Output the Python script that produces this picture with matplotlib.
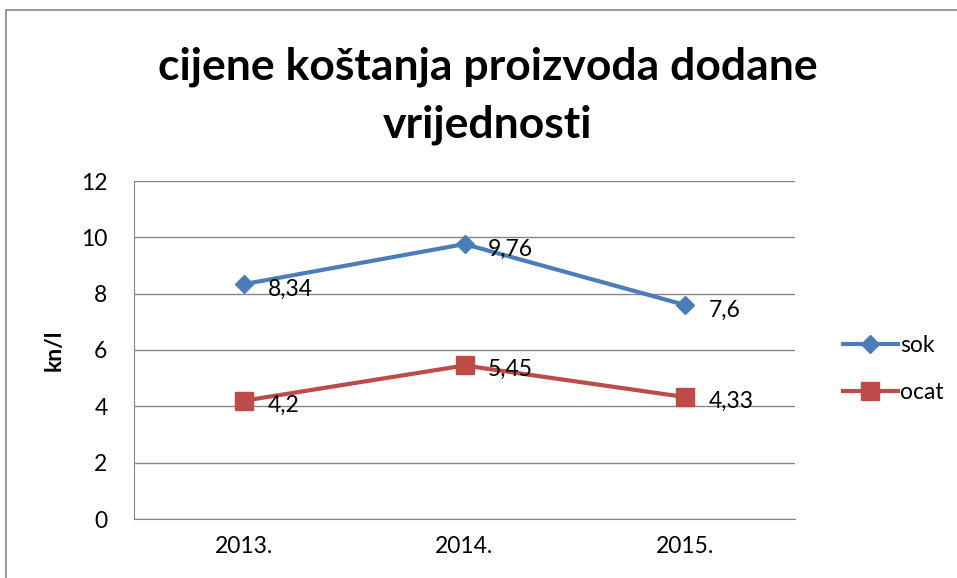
import matplotlib.pyplot as plt
import matplotlib.patches as mpatches

plt.rcParams['font.family'] = ['Lato', 'DejaVu Sans']

years = ['2013.', '2014.', '2015.']
sok = [8.34, 9.76, 7.6]
ocat = [4.2, 5.45, 4.33]
sok_labels = ['8,34', '9,76', '7,6']
ocat_labels = ['4,2', '5,45', '4,33']

BLUE = '#4A7EBB'
RED = '#BE4B48'
FS = 16.5

fig = plt.figure(figsize=(9.57, 5.78), dpi=100)
ax = fig.add_axes([134 / 957, 1 - 519 / 578, (795 - 134) / 957, (519 - 181) / 578])

# outer chart border (cut off at right and bottom like the reference)
fig.patches.append(mpatches.Rectangle((5.5 / 957, -0.1), 2, 1 - 10.5 / 578 + 0.1,
                                      transform=fig.transFigure, fill=False,
                                      edgecolor='#868686', linewidth=1.2))

x = range(len(years))
ax.plot(x, sok, color=BLUE, lw=3, marker='D', ms=9, label='sok', zorder=3)
ax.plot(x, ocat, color=RED, lw=3, marker='s', ms=13, label='ocat', zorder=3)

for i, (v, t) in enumerate(zip(sok, sok_labels)):
    ax.annotate(t, (i, v), xytext=(17, -4), textcoords='offset points',
                va='center', ha='left', fontsize=FS)
for i, (v, t) in enumerate(zip(ocat, ocat_labels)):
    ax.annotate(t, (i, v), xytext=(17, -3), textcoords='offset points',
                va='center', ha='left', fontsize=FS)

ax.set_xlim(-0.5, 2.5)
ax.set_ylim(0, 12)
ax.set_yticks(range(0, 13, 2))
ax.set_xticks(list(x))
ax.set_xticklabels(years)
ax.yaxis.grid(True, color='#868686', linewidth=1)
ax.set_axisbelow(True)
for s in ['top', 'right']:
    ax.spines[s].set_visible(False)
for s in ['left', 'bottom']:
    ax.spines[s].set_color('#868686')
ax.tick_params(axis='both', length=0, labelsize=FS, colors='black')
ax.tick_params(axis='y', pad=19)
ax.tick_params(axis='x', pad=12)
ax.set_ylabel('kn/l', fontsize=FS, fontweight='bold', labelpad=12)

fig.text(488 / 957, 1 - 67 / 578, 'cijene koštanja proizvoda dodane', ha='center', va='center',
         fontsize=32, fontweight='bold')
fig.text(488 / 957, 1 - 125 / 578, 'vrijednosti', ha='center', va='center',
         fontsize=32, fontweight='bold')

ax.legend(loc='center left', bbox_to_anchor=(822 / 957, 1 - 369 / 578),
          bbox_transform=fig.transFigure, frameon=False, fontsize=FS,
          handlelength=2.4, handletextpad=0.1, labelspacing=1.1)

fig.savefig('out.png', dpi=100)
